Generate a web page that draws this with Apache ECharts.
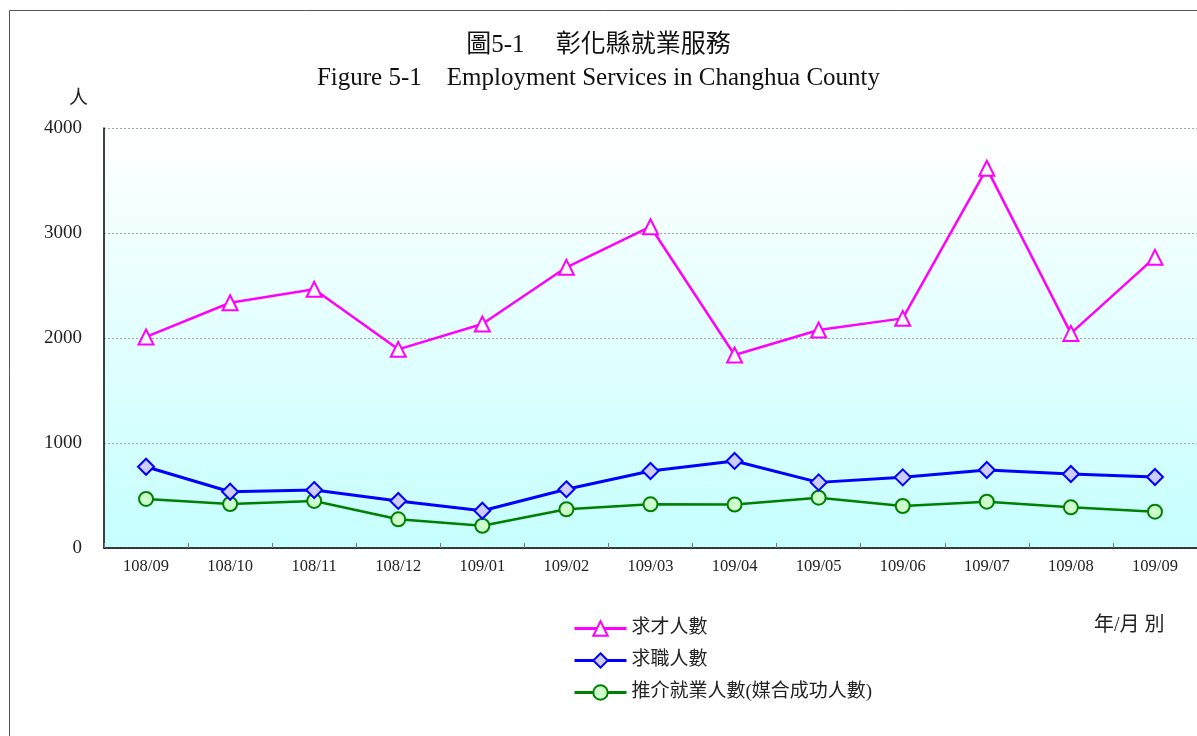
<!DOCTYPE html>
<html>
<head>
<meta charset="utf-8">
<script src="https://cdn.jsdelivr.net/npm/echarts@6/dist/echarts.min.js"></script>
<style>
  html, body { margin: 0; padding: 0; background: #fff; }
  #main { width: 1197px; height: 736px; }
</style>
</head>
<body>
<div id="main"></div>
<script>
// 年/月
const months = ['108/09', '108/10', '108/11', '108/12', '109/01', '109/02', '109/03',
  '109/04', '109/05', '109/06', '109/07', '109/08', '109/09'];
// 求才人數
const openings = [2010, 2336, 2464, 1892, 2133, 2673, 3060, 1838, 2076, 2187, 3616, 2044, 2768];
// 求職人數
const seekers = [774, 536, 552, 448, 355, 559, 733, 829, 625, 673, 743, 705, 676];
// 推介就業人數(媒合成功人數)
const placed = [467, 419, 448, 273, 212, 369, 416, 414, 479, 400, 441, 387, 346];
const yTicks = [0, 1000, 2000, 3000, 4000];

const serif = '"Liberation Serif", "Noto Sans CJK TC", serif';

const chart = echarts.init(document.getElementById('main'), null, { renderer: 'canvas' });

const option = {
  backgroundColor: '#fff',
  animation: false,
  title: {
    text: '圖5-1     彰化縣就業服務',
    subtext: 'Figure 5-1    Employment Services in Changhua County',
    left: 'center',
    top: 28,
    itemGap: 8,
    textStyle: { fontFamily: serif, fontSize: 25, fontWeight: 'normal', color: '#111' },
    subtextStyle: { fontFamily: serif, fontSize: 25, color: '#111' }
  },
  grid: {
    left: 104,
    right: 0,
    top: 128,
    bottom: 188,
    show: true,
    borderWidth: 0,
    borderColor: 'transparent',
    backgroundColor: new echarts.graphic.LinearGradient(0, 0, 0, 1, [
      { offset: 0, color: '#ffffff' },
      { offset: 1, color: '#c6ffff' }
    ])
  },
  legend: {
    orient: 'vertical',
    left: 568,
    top: 614,
    itemWidth: 52,
    itemHeight: 18,
    itemGap: 13,
    textStyle: { fontFamily: serif, fontSize: 19, color: '#222' },
    data: [
      { name: '求才人數', lineStyle: { width: 3 } },
      { name: '求職人數', lineStyle: { width: 3 } },
      { name: '推介就業人數(媒合成功人數)', lineStyle: { width: 3 } }
    ]
  },
  xAxis: {
    type: 'category',
    data: months,
    boundaryGap: true,
    axisLine: { lineStyle: { color: '#000', width: 1.5 } },
    axisTick: { show: true, inside: true, length: 5, lineStyle: { color: '#777' } },
    axisLabel: { fontFamily: serif, fontSize: 16.5, color: '#222', margin: 10 },
    splitLine: { show: false }
  },
  yAxis: {
    type: 'value',
    min: yTicks[0],
    max: yTicks[yTicks.length - 1],
    interval: 1000,
    axisLine: { show: true, lineStyle: { color: '#000', width: 1.5 } },
    axisTick: { show: false },
    axisLabel: {
      fontFamily: serif, fontSize: 19, color: '#222', margin: 22,
      formatter: v => String(v)
    },
    splitLine: { show: true, lineStyle: { color: '#a8a8a8', type: [2, 2], width: 1 } }
  },
  graphic: [
    {
      type: 'rect',
      shape: { x: 9.5, y: 10.5, width: 1300, height: 800 },
      style: { fill: 'none', stroke: '#555', lineWidth: 1 },
      silent: true
    },
    {
      type: 'text',
      left: 69,
      top: 90,
      style: { text: '人', fontFamily: serif, fontSize: 19, fill: '#222' }
    },
    {
      type: 'text',
      left: 1094,
      top: 616,
      style: { text: '年/月 別', fontFamily: serif, fontSize: 20, fill: '#222' }
    }
  ],
  series: [
    {
      name: '求才人數',
      type: 'line',
      data: openings,
      symbol: 'triangle',
      symbolSize: 15,
      lineStyle: { color: '#ff00ff', width: 2.5 },
      itemStyle: { color: '#ffffff', borderColor: '#ff00ff', borderWidth: 2 },
      z: 4
    },
    {
      name: '求職人數',
      type: 'line',
      data: seekers,
      symbol: 'diamond',
      symbolSize: 16,
      lineStyle: { color: '#0000ff', width: 3 },
      itemStyle: { color: '#ccccff', borderColor: '#0000ff', borderWidth: 2 },
      z: 3
    },
    {
      name: '推介就業人數(媒合成功人數)',
      type: 'line',
      data: placed,
      symbol: 'circle',
      symbolSize: 14,
      lineStyle: { color: '#008000', width: 2.5 },
      itemStyle: { color: '#ccffcc', borderColor: '#008000', borderWidth: 2 },
      z: 2
    }
  ]
};

chart.setOption(option);
</script>
</body>
</html>
